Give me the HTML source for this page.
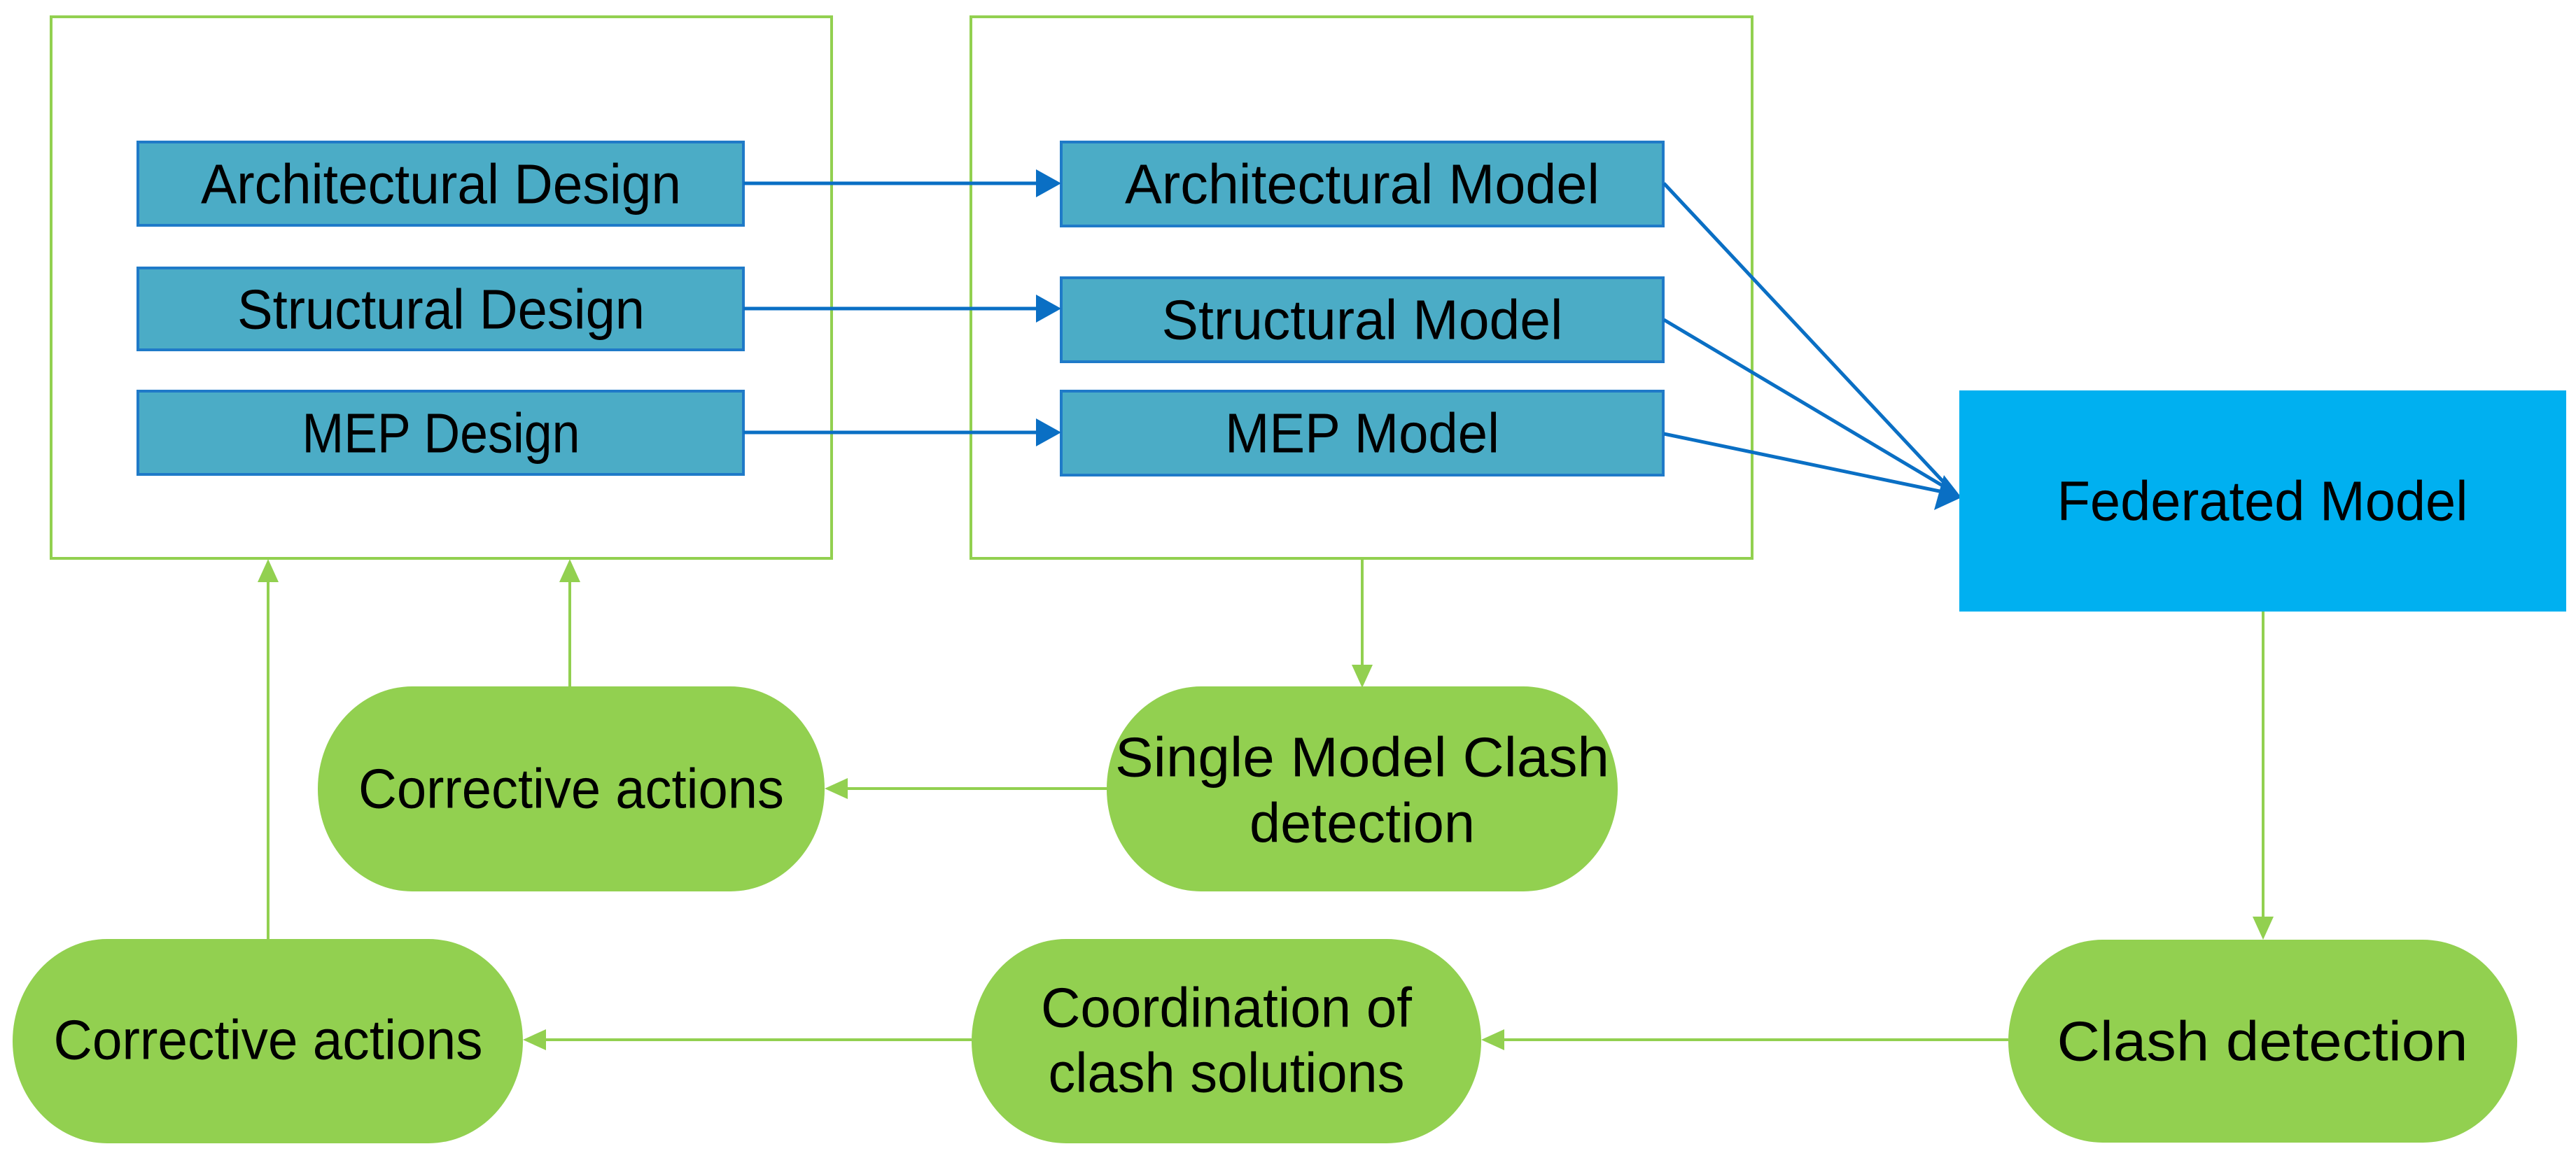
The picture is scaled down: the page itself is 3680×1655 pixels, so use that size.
<!DOCTYPE html>
<html><head><meta charset="utf-8"><style>
html,body{margin:0;padding:0;background:#fff;}
svg{display:block;}
text{font-family:"Liberation Sans Narrow","Liberation Sans",sans-serif;font-size:80px;fill:#000;text-anchor:middle;dominant-baseline:central;}
</style></head><body>
<svg width="3680" height="1655" viewBox="0 0 3680 1655" xmlns="http://www.w3.org/2000/svg">
<!-- containers -->
<rect x="73" y="24" width="1115" height="774" fill="none" stroke="#92d050" stroke-width="4"/>
<rect x="1387" y="24" width="1116" height="774" fill="none" stroke="#92d050" stroke-width="4"/>
<!-- design boxes -->
<g fill="#4bacc6" stroke="#1f7ac8" stroke-width="4">
<rect x="197" y="203" width="865" height="119"/>
<rect x="197" y="383" width="865" height="117"/>
<rect x="197" y="559" width="865" height="119"/>
<rect x="1516" y="203" width="860" height="120"/>
<rect x="1516" y="397" width="860" height="120"/>
<rect x="1516" y="559" width="860" height="120"/>
</g>
<text x="630" y="263" textLength="686" lengthAdjust="spacingAndGlyphs">Architectural Design</text>
<text x="630" y="442" textLength="582" lengthAdjust="spacingAndGlyphs">Structural Design</text>
<text x="630" y="619" textLength="397" lengthAdjust="spacingAndGlyphs">MEP Design</text>
<text x="1946" y="263" textLength="678" lengthAdjust="spacingAndGlyphs">Architectural Model</text>
<text x="1946" y="457" textLength="573" lengthAdjust="spacingAndGlyphs">Structural Model</text>
<text x="1946" y="619" textLength="392" lengthAdjust="spacingAndGlyphs">MEP Model</text>
<!-- blue arrows -->
<g stroke="#0a6fc4" stroke-width="5" fill="none">
<line x1="1062" y1="262" x2="1485" y2="262"/>
<line x1="1062" y1="441" x2="1485" y2="441"/>
<line x1="1062" y1="618" x2="1485" y2="618"/>
<line x1="2377" y1="262" x2="2785" y2="698"/>
<line x1="2377" y1="457" x2="2785" y2="700"/>
<line x1="2377" y1="620" x2="2785" y2="705"/>
</g>
<g fill="#0a6fc4">
<polygon points="1480,242 1516,262 1480,282"/>
<polygon points="1480,421 1516,441 1480,461"/>
<polygon points="1480,598 1516,618 1480,638"/>
<polygon points="2777,679 2802,711 2763,729"/>
</g>
<!-- federated -->
<rect x="2799" y="558" width="867" height="316" fill="#00b0f0"/>
<text x="3232" y="716" textLength="587" lengthAdjust="spacingAndGlyphs">Federated Model</text>
<!-- green connectors -->
<g stroke="#92d050" stroke-width="4" fill="none">
<line x1="1946" y1="797" x2="1946" y2="960"/>
<line x1="3233" y1="874" x2="3233" y2="1320"/>
<line x1="2869" y1="1486" x2="2135" y2="1486"/>
<line x1="1388" y1="1486" x2="765" y2="1486"/>
<line x1="1581" y1="1127" x2="1198" y2="1127"/>
<line x1="383" y1="1342" x2="383" y2="820"/>
<line x1="814" y1="981" x2="814" y2="820"/>
</g>
<g fill="#92d050">
<polygon points="1931,950 1961,950 1946,983"/>
<polygon points="3218,1310 3248,1310 3233,1343"/>
<polygon points="2149,1471 2149,1501 2116,1486"/>
<polygon points="780,1471 780,1501 747,1486"/>
<polygon points="1211,1112 1211,1142 1178,1127"/>
<polygon points="368,832 398,832 383,799"/>
<polygon points="799,832 829,832 814,799"/>
</g>
<!-- green terminals -->
<g fill="#92d050">
<rect x="454" y="981" width="724" height="293" rx="135" ry="146"/>
<rect x="1581" y="981" width="730" height="293" rx="135" ry="146"/>
<rect x="18" y="1342" width="729" height="292" rx="135" ry="146"/>
<rect x="1388" y="1342" width="728" height="292" rx="135" ry="146"/>
<rect x="2869" y="1343" width="727" height="290" rx="135" ry="145"/>
</g>
<text x="816" y="1127" textLength="608" lengthAdjust="spacingAndGlyphs">Corrective actions</text>
<text x="1946" y="1082" textLength="706" lengthAdjust="spacingAndGlyphs">Single Model Clash</text>
<text x="1946" y="1176" textLength="322" lengthAdjust="spacingAndGlyphs">detection</text>
<text x="383" y="1486" textLength="613" lengthAdjust="spacingAndGlyphs">Corrective actions</text>
<text x="1752" y="1440" textLength="530" lengthAdjust="spacingAndGlyphs">Coordination of</text>
<text x="1752" y="1533" textLength="509" lengthAdjust="spacingAndGlyphs">clash solutions</text>
<text x="3232" y="1488" textLength="587" lengthAdjust="spacingAndGlyphs">Clash detection</text>
</svg>
</body></html>
